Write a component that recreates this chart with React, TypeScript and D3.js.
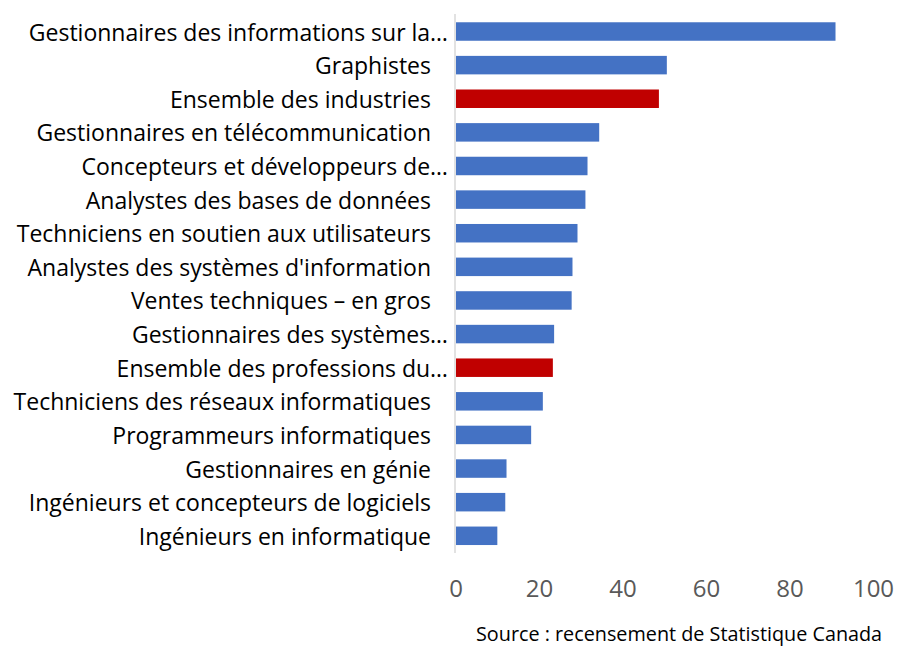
import * as d3 from "d3";

const categories = [
  "Gestionnaires des informations sur la…",
  "Graphistes",
  "Ensemble des industries",
  "Gestionnaires en télécommunication",
  "Concepteurs et développeurs de…",
  "Analystes des bases de données",
  "Techniciens en soutien aux utilisateurs",
  "Analystes des systèmes d'information",
  "Ventes techniques – en gros",
  "Gestionnaires des systèmes…",
  "Ensemble des professions du…",
  "Techniciens des réseaux informatiques",
  "Programmeurs informatiques",
  "Gestionnaires en génie",
  "Ingénieurs et concepteurs de logiciels",
  "Ingénieurs en informatique",
];

const values = [90.9, 50.5, 48.6, 34.3, 31.5, 31.0, 29.1, 27.9, 27.7, 23.5, 23.2, 20.8, 18.0, 12.1, 11.8, 9.9];

// categories drawn in red (aggregate rows)
const highlighted = ["Ensemble des industries", "Ensemble des professions du…"];

const tickValues = [0, 20, 40, 60, 80, 100];

const sourceNote = "Source : recensement de Statistique Canada";

const W = 897;
const H = 646;
const FONT = "'Open Sans', 'Noto Sans', sans-serif";

export default function App() {
  const x = d3.scaleLinear().domain([0, 100]).range([456, 873.5]);
  const y = d3
    .scaleBand()
    .domain(categories)
    .range([14.7, 552.6])
    .paddingInner(0.45)
    .paddingOuter(0.225);

  return (
    <svg
      width={W}
      height={H}
      style={{ position: "absolute", left: 0, top: 0, background: "#fff" }}
    >
      {categories.map((c, i) => {
        const yy = y(c)!;
        return (
          <rect
            key={`bar-${c}`}
            x={x(0)}
            y={yy}
            width={x(values[i]) - x(0)}
            height={y.bandwidth()}
            fill={highlighted.includes(c) ? "#C00000" : "#4472C4"}
          />
        );
      })}
      <line x1={455} x2={455} y1={14} y2={553} stroke="#d9d9d9" strokeWidth={1.5} />
      {categories.map((c) => (
        <text
          key={`lab-${c}`}
          x={c.endsWith("…") ? 448 : 431}
          y={y(c)! + y.bandwidth() / 2}
          textAnchor="end"
          dominantBaseline="central"
          fontFamily={FONT}
          fontSize={23}
          fill="#000"
        >
          {c}
        </text>
      ))}
      {tickValues.map((t) => (
        <text
          key={`tick-${t}`}
          x={x(t)}
          y={587}
          textAnchor="middle"
          dominantBaseline="central"
          fontFamily={FONT}
          fontSize={24}
          fill="#595959"
        >
          {t}
        </text>
      ))}
      <text x={476} y={641} fontFamily={FONT} fontSize={19.8} fill="#000">
        {sourceNote}
      </text>
    </svg>
  );
}
